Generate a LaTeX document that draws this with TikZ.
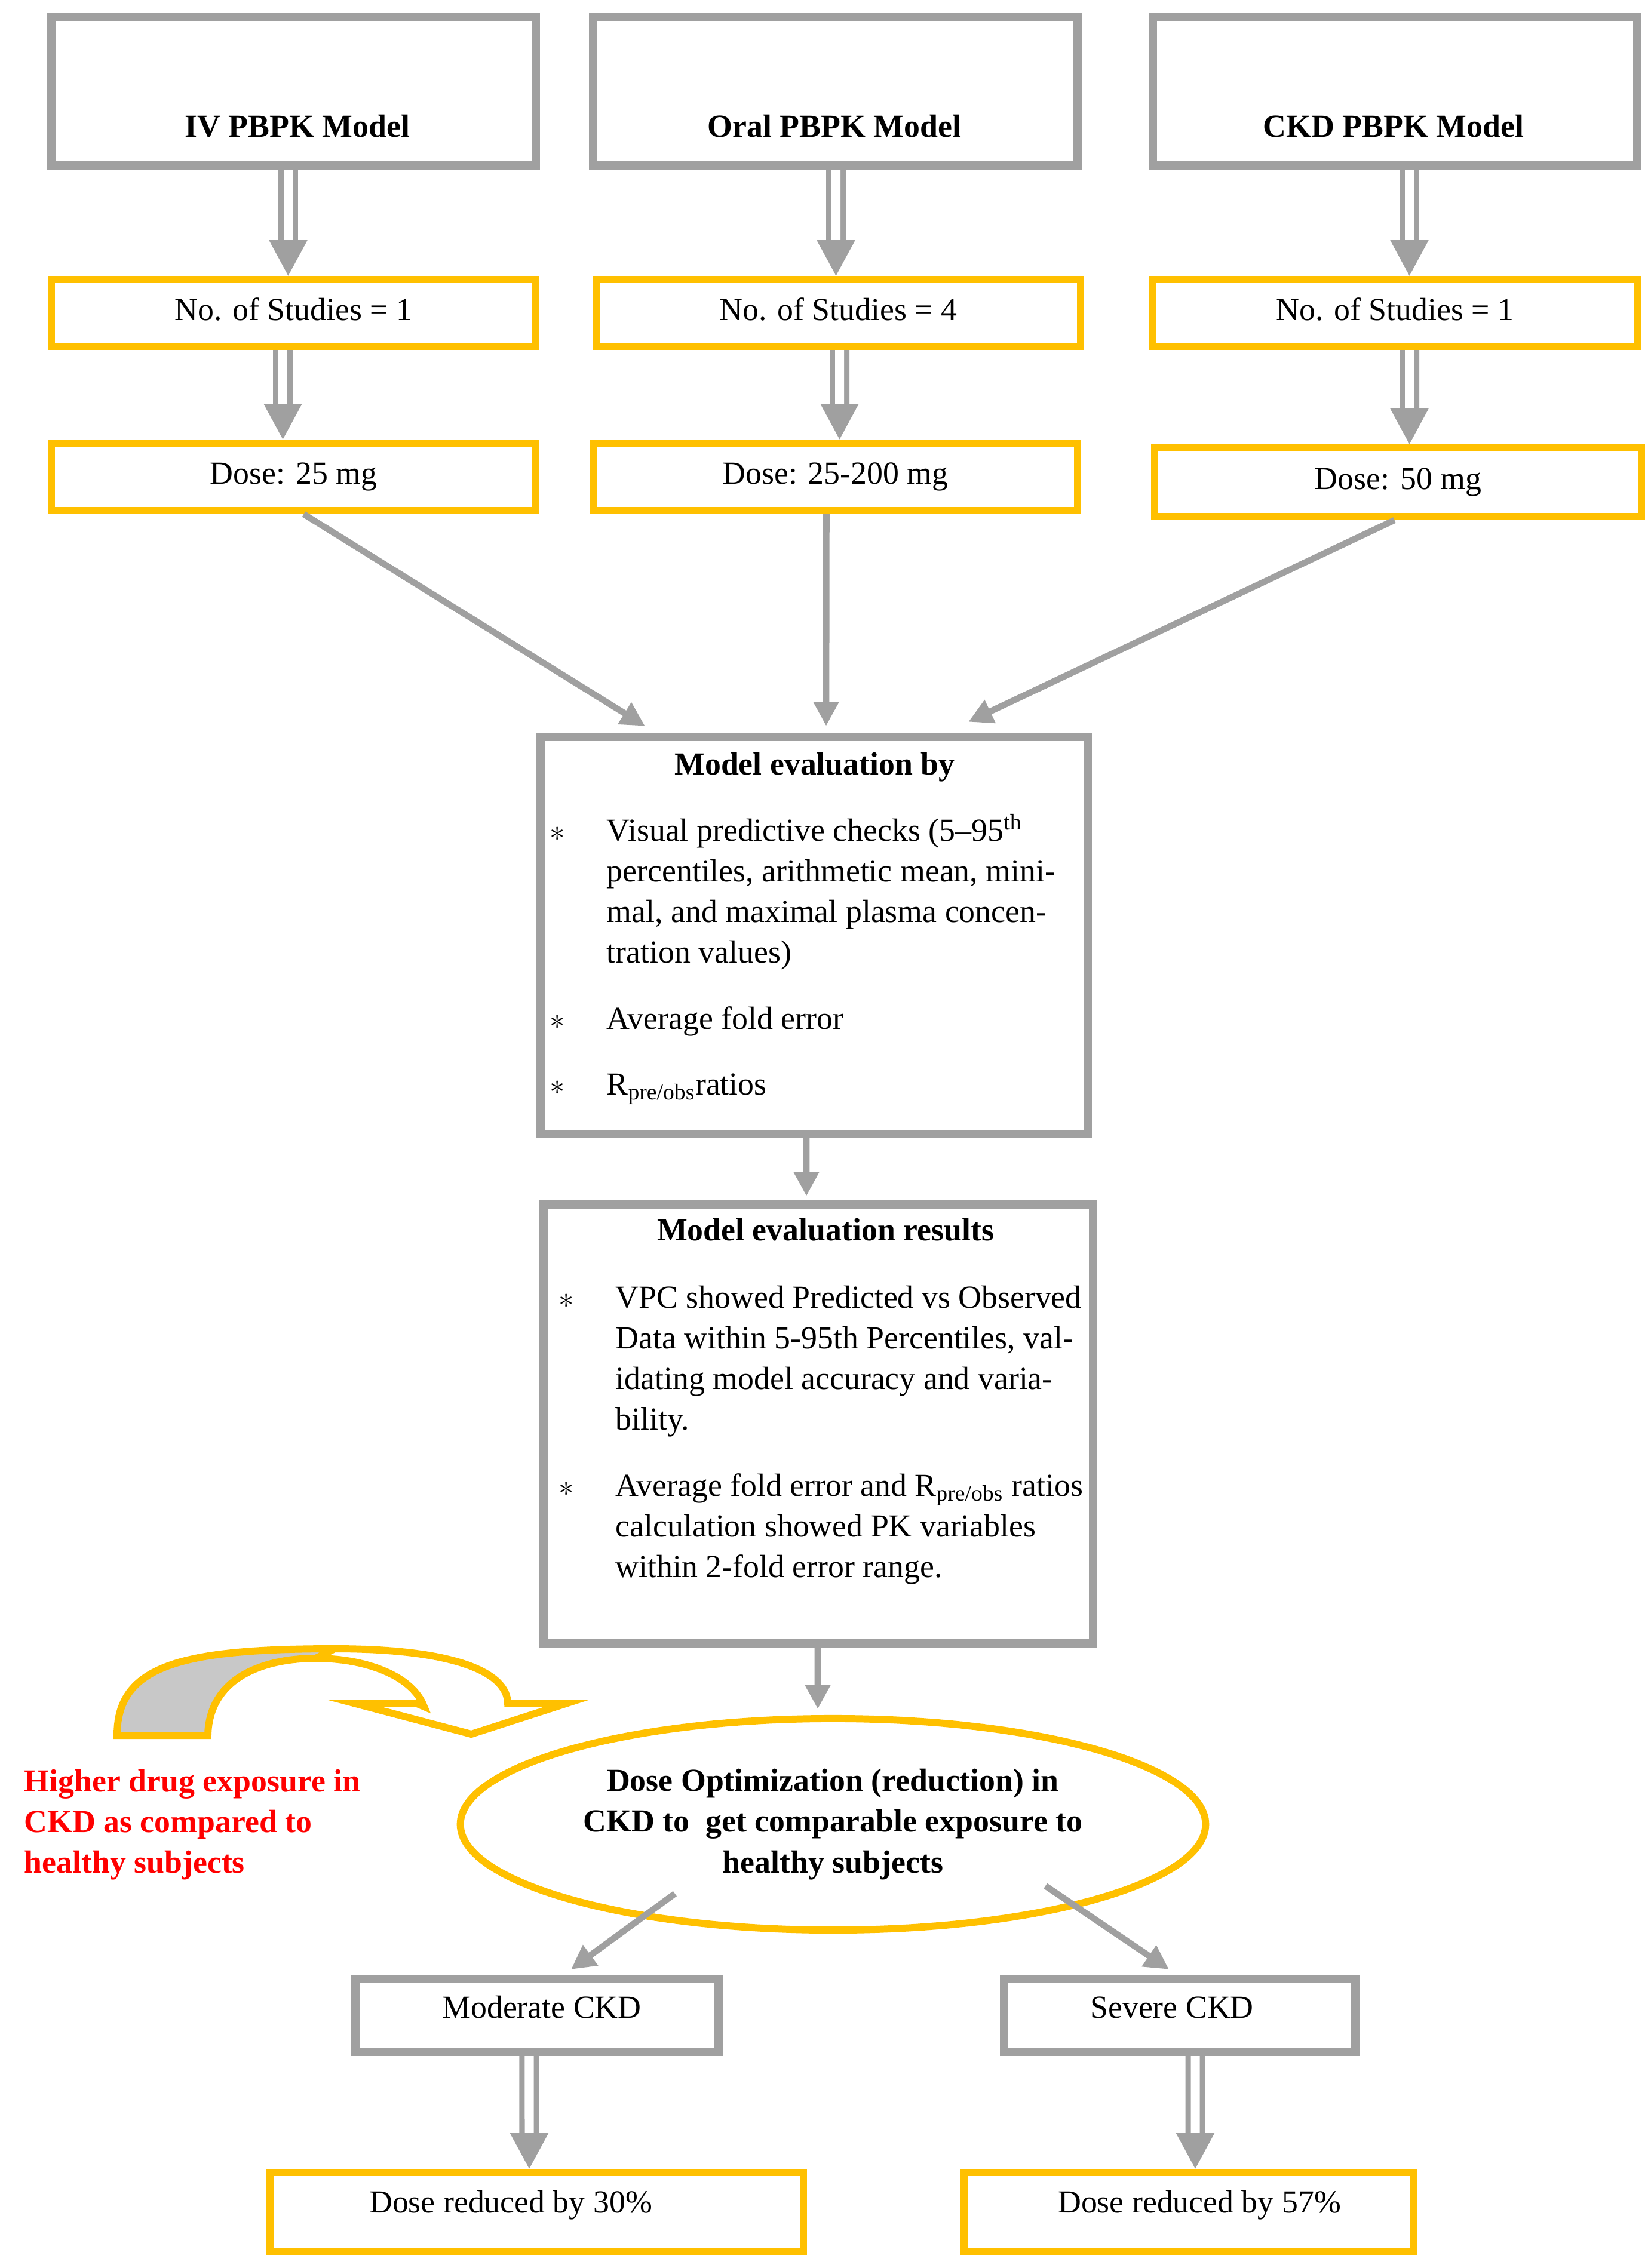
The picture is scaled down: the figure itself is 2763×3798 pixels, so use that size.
\documentclass[tikz,border=0pt]{standalone}
\usepackage{fontspec}
\setmainfont{Liberation Serif}
\usepackage{tikz}
\usetikzlibrary{arrows.meta, shapes.geometric}

\definecolor{boxgray}{RGB}{160,160,160}
\definecolor{gold}{RGB}{255,192,0}
\definecolor{bandgray}{RGB}{200,200,200}

\newcommand{\diagfont}{\fontsize{15.3}{19.4}\selectfont}

\tikzset{
  graybox/.style={draw=boxgray, line width=4pt, inner sep=0pt, text height=10.7pt, text depth=3.8pt, font=\diagfont},
  goldbox/.style={draw=gold, line width=3.4pt, inner sep=0pt, text height=10.7pt, text depth=3.8pt, font=\diagfont},
  dblarrow/.style={draw=boxgray, double=white, line width=2.56pt, double distance=4.27pt, -{Triangle[length=17pt, width=17.6pt]}},
  grayarrow/.style={draw=boxgray, line width=3pt, -{Triangle[length=11.5pt, width=11.5pt]}},
  bullets/.style={font=\diagfont, anchor=base west, inner sep=0pt},
  heading/.style={font=\diagfont\bfseries, anchor=base, inner sep=0pt},
  label/.style={font=\diagfont, anchor=base, inner sep=0pt}
}

\begin{document}
\begin{tikzpicture}[x=0.01cm, y=-0.01cm]
    \useasboundingbox (0,0) rectangle (2763,3798);

    % three model boxes
    \node[graybox, minimum width=8.11cm, minimum height=2.48cm] (iv) at (491.5,153) {};
    \node[graybox, minimum width=8.11cm, minimum height=2.48cm] (oral) at (1398.5,153) {};
    \node[graybox, minimum width=8.11cm, minimum height=2.48cm] (ckd) at (2335.5,153) {};
    \node[heading] (ivtitle) at (498,230) {IV PBPK Model};
    \node[heading] (oraltitle) at (1397,230) {Oral PBPK Model};
    \node[heading] (ckdtitle) at (2333,230) {CKD PBPK Model};

    % number of studies
    \node[goldbox, minimum width=8.11cm, minimum height=1.12cm] (ivst) at (491.5,524) {No. of Studies = 1};
    \node[goldbox, minimum width=8.11cm, minimum height=1.12cm] (oralst) at (1403.5,524) {No. of Studies = 4};
    \node[goldbox, minimum width=8.11cm, minimum height=1.12cm] (ckdst) at (2335.5,524) {No. of Studies = 1};

    % doses
    \node[goldbox, minimum width=8.11cm, minimum height=1.13cm] (ivdose) at (491.5,798.5) {Dose: 25 mg};
    \node[goldbox, minimum width=8.11cm, minimum height=1.13cm] (oraldose) at (1398.5,798.5) {Dose: 25-200 mg};
    \node[goldbox, minimum width=8.15cm, minimum height=1.15cm] (ckddose) at (2340.5,807.5) {Dose: 50 mg};

    \draw[dblarrow] ([xshift=-0.09cm]iv.south) -- ([xshift=-0.09cm]ivst.north);
    \draw[dblarrow] ([xshift=0.01cm]oral.south) -- ([xshift=-0.04cm]oralst.north);
    \draw[dblarrow] ([xshift=0.24cm]ckd.south) -- ([xshift=0.24cm]ckdst.north);
    \draw[dblarrow] ([xshift=-0.18cm]ivst.south) -- ([xshift=-0.18cm]ivdose.north);
    \draw[dblarrow] ([xshift=0.02cm]oralst.south) -- ([xshift=0.07cm]oraldose.north);
    \draw[dblarrow] ([xshift=0.24cm]ckdst.south) -- ([xshift=0.19cm]ckddose.north);

    % model evaluation
    \node[graybox, minimum width=9.16cm, minimum height=6.65cm] (eval) at (1363,1566.5) {};
    \node[heading] (evaltitle) at (1364,1297) {Model evaluation by};
    \node[bullets] (evalvpc) at (920,1408) {\begin{tabular}[t]{@{}p{27pt}@{}l@{}}
      $\ast$ & Visual predictive checks (5--95\textsuperscript{th}\\
      & percentiles, arithmetic mean, mini-\\
      & mal, and maximal plasma concen-\\
      & tration values)\end{tabular}};
    \node[bullets] (evalafe) at (920,1723) {\begin{tabular}[t]{@{}p{27pt}@{}l@{}}
      $\ast$ & Average fold error\end{tabular}};
    \node[bullets] (evalratio) at (920,1833) {\begin{tabular}[t]{@{}p{27pt}@{}l@{}}
      $\ast$ & R\textsubscript{pre/obs}ratios\end{tabular}};

    \draw[grayarrow] ([xshift=0.17cm]ivdose.south) -- ([xshift=-2.83cm,yshift=0.11cm]eval.north);
    \draw[grayarrow] ([xshift=-0.15cm]oraldose.south) -- ([xshift=0.20cm,yshift=0.11cm]eval.north);
    \draw[grayarrow] ([xshift=-0.06cm]ckddose.south) -- ([xshift=2.58cm,yshift=0.18cm]eval.north);

    % evaluation results
    \node[graybox, minimum width=9.20cm, minimum height=7.35cm] (results) at (1370,2384.5) {};
    \node[heading] (resultstitle) at (1382,2077) {Model evaluation results};
    \node[bullets] (resvpc) at (935,2190) {\begin{tabular}[t]{@{}p{27pt}@{}l@{}}
      $\ast$ & VPC showed Predicted vs Observed\\
      & Data within 5-95th Percentiles, val-\\
      & idating model accuracy and varia-\\
      & bility.\end{tabular}};
    \node[bullets] (resafe) at (935,2505) {\begin{tabular}[t]{@{}p{27pt}@{}l@{}}
      $\ast$ & Average fold error and R\textsubscript{pre/obs} ratios\\
      & calculation showed PK variables\\
      & within 2-fold error range.\end{tabular}};

    \draw[grayarrow] ([xshift=-0.13cm]eval.south) -- ([xshift=-0.20cm,yshift=0.07cm]results.north);

    % dose optimization
    \node[ellipse, draw=gold, line width=3.4pt, minimum width=12.47cm, minimum height=3.54cm,
          inner sep=0pt, align=center, font=\diagfont\bfseries] (opt) at (1394.5,3055)
          {Dose Optimization (reduction) in\\ CKD to\ \ get comparable exposure to\\ healthy subjects};
    \draw[grayarrow] ([xshift=-0.01cm]results.south) -- ([xshift=-0.255cm,yshift=0.10cm]opt.north);

    % curved arrow and note
    \filldraw[draw=gold, fill=bandgray, line width=3.4pt]
      (196,2906) .. controls (196,2790) and (300,2761) .. (560,2761)
      -- (529,2777) .. controls (440,2777) and (350,2810) .. (348,2906) -- cycle;
    \filldraw[draw=gold, fill=white, line width=3.4pt]
      (560,2761) .. controls (760,2761) and (849,2800) .. (850,2852)
      -- (950,2852) -- (789,2904) -- (592,2852) -- (696,2852) -- (710,2858)
      .. controls (690,2805) and (610,2777) .. (529,2777) -- cycle;
    \node[bullets, font=\diagfont\bfseries, text=red] (note) at (40,3000) {\begin{tabular}[t]{@{}l@{}}
      Higher drug exposure in\\
      CKD as compared to\\
      healthy subjects\end{tabular}};

    % CKD groups
    \node[graybox, minimum width=6.08cm, minimum height=1.22cm] (moderate) at (899,3375) {};
    \node[graybox, minimum width=5.88cm, minimum height=1.22cm] (severe) at (1975,3375) {};
    \node[label] (moderatetext) at (907,3379) {Moderate CKD};
    \node[label] (severetext) at (1962,3379) {Severe CKD};
    \draw[grayarrow] ([xshift=-2.645cm,yshift=-1.16cm]opt.center) -- ([xshift=0.57cm,yshift=0.09cm]moderate.north);
    \draw[grayarrow] ([xshift=3.555cm,yshift=-1.03cm]opt.center) -- ([xshift=-0.18cm,yshift=0.09cm]severe.north);

    % reduced doses
    \node[goldbox, minimum width=8.93cm, minimum height=1.32cm] (redmod) at (898.5,3704) {};
    \node[goldbox, minimum width=7.53cm, minimum height=1.32cm] (redsev) at (1990.5,3704) {};
    \node[label] (redmodtext) at (855,3705) {Dose reduced by 30\%};
    \node[label] (redsevtext) at (2008,3705) {Dose reduced by 57\%};
    \draw[dblarrow] ([xshift=-0.13cm]moderate.south) -- ([xshift=-0.125cm]redmod.north);
    \draw[dblarrow] ([xshift=0.26cm]severe.south) -- ([xshift=0.105cm]redsev.north);

\end{tikzpicture}
\end{document}
